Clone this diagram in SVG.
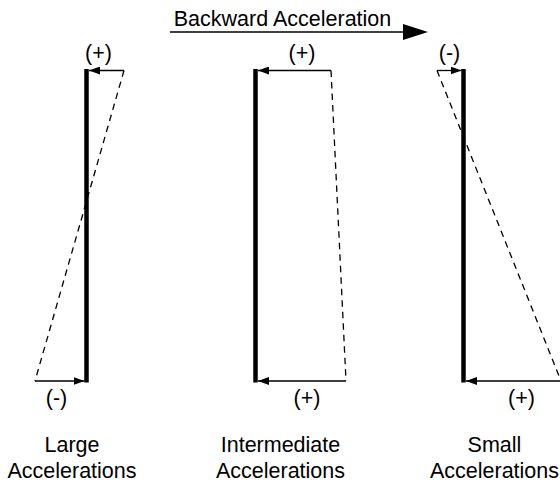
<svg xmlns="http://www.w3.org/2000/svg" width="560" height="483" viewBox="0 0 560 483">
<style>
text{font-family:"Liberation Sans",Arial,sans-serif;font-size:21.5px;fill:#000;text-anchor:middle}
.bar{stroke:#000;stroke-width:4.5;fill:none}
.thin{stroke:#000;stroke-width:1.3;fill:none}
.dash{stroke:#000;stroke-width:1.3;fill:none;stroke-dasharray:6.5,5}
</style>
<defs>
<marker id="ah" markerWidth="12" markerHeight="8" refX="11" refY="4" orient="auto" markerUnits="userSpaceOnUse">
<path d="M0,0 L11,4 L0,8 Z" fill="#000"/>
</marker>
</defs>
<g id="direction">
<text x="282.5" y="26">Backward Acceleration</text>
<line class="thin" x1="170" y1="32" x2="404" y2="32" style="stroke-width:1.5"/>
<polygon points="403,24 428,32 403,40" fill="#000"/>
</g>
<g id="large">
<line class="bar" x1="86.5" y1="69" x2="86.5" y2="382.5"/>
<line class="dash" x1="124" y1="70.5" x2="35" y2="381"/>
<text x="98.5" y="60">(+)</text>
<text x="56.5" y="405">(-)</text>
<text x="72" y="452">Large</text>
<text x="72" y="478">Accelerations</text>
</g>
<g id="intermediate">
<line class="bar" x1="255.5" y1="69" x2="255.5" y2="382.5"/>
<line class="dash" x1="331" y1="70.5" x2="346" y2="381"/>
<text x="302" y="60">(+)</text>
<text x="307" y="405">(+)</text>
<text x="280.5" y="452">Intermediate</text>
<text x="280.5" y="478">Accelerations</text>
</g>
<g id="small">
<line class="bar" x1="463.5" y1="69" x2="463.5" y2="382.5"/>
<line class="dash" x1="437" y1="70.5" x2="561" y2="381"/>
<text x="449.5" y="60">(-)</text>
<text x="521.5" y="405">(+)</text>
<text x="494.5" y="452">Small</text>
<text x="494.5" y="478">Accelerations</text>
</g>
<g id="connectors">
<line class="thin" x1="124" y1="70.5" x2="89" y2="70.5" marker-end="url(#ah)"/>
<line class="thin" x1="35" y1="381" x2="84.5" y2="381" marker-end="url(#ah)"/>
<line class="thin" x1="331" y1="70.5" x2="258" y2="70.5" marker-end="url(#ah)"/>
<line class="thin" x1="346" y1="381" x2="258" y2="381" marker-end="url(#ah)"/>
<line class="thin" x1="437" y1="70.5" x2="461.5" y2="70.5" marker-end="url(#ah)"/>
<line class="thin" x1="561" y1="381" x2="466" y2="381" marker-end="url(#ah)"/>
</g>
</svg>
